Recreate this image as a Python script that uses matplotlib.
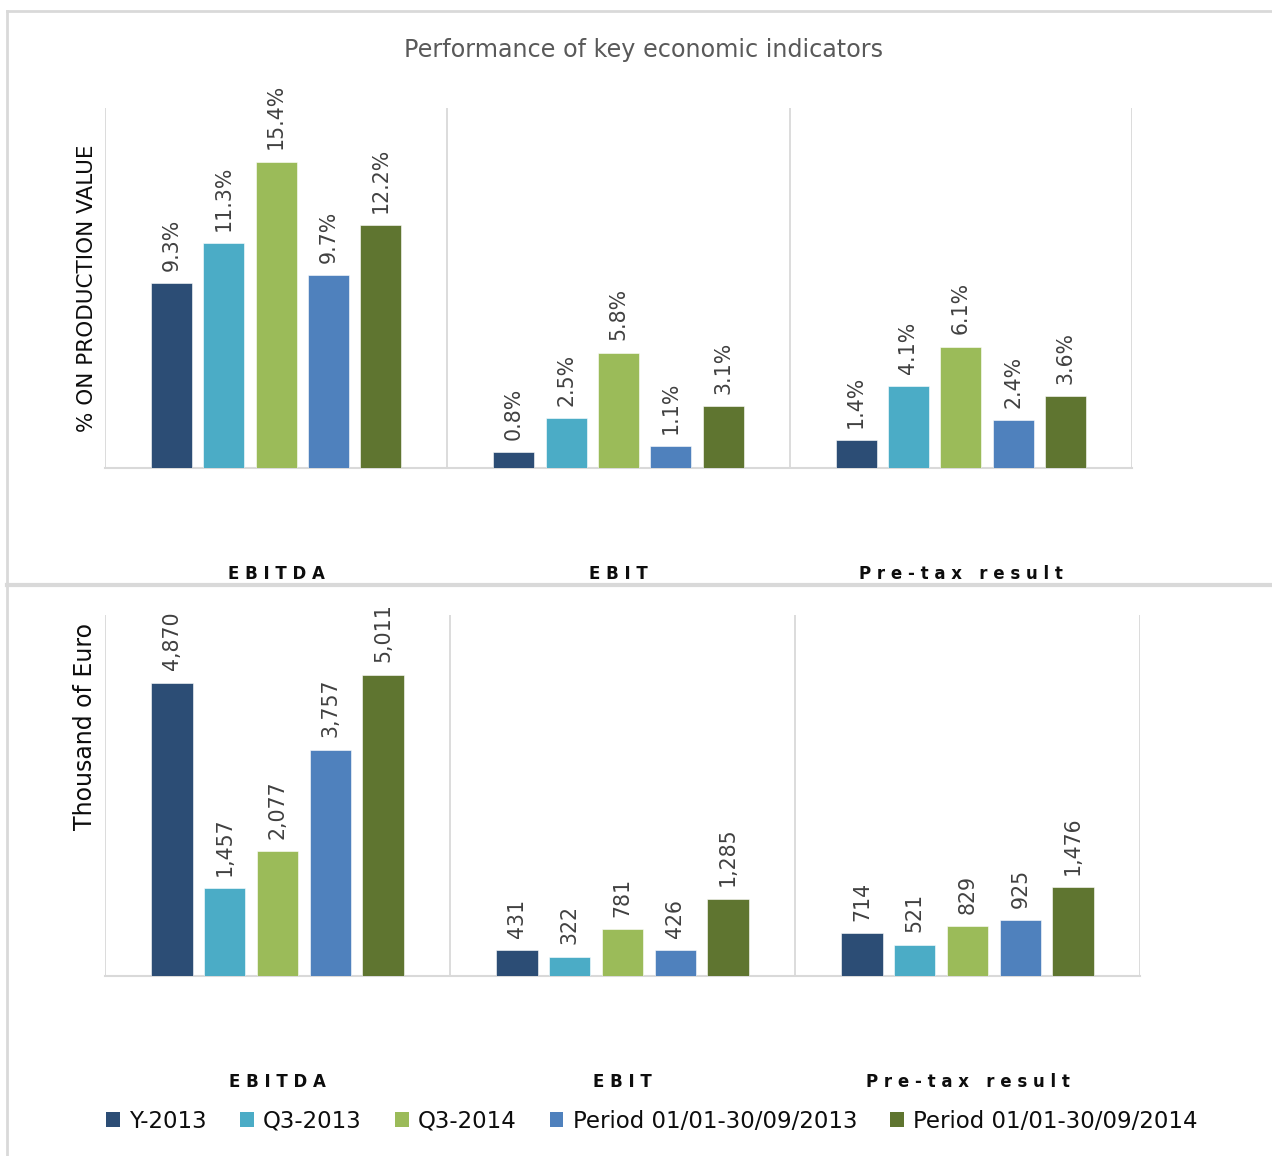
import numpy as np
import matplotlib
matplotlib.use("Agg")
import matplotlib.pyplot as plt
from matplotlib.patches import Patch
from matplotlib.lines import Line2D

categories = ["EBITDA", "EBIT", "Pre-tax result"]
series_names = ["Y-2013", "Q3-2013", "Q3-2014",
                "Period 01/01-30/09/2013", "Period 01/01-30/09/2014"]
colors = ["#2C4D75", "#4BACC6", "#9BBB59", "#4F81BD", "#5F7530"]

# % on production value, one list per series (EBITDA, EBIT, Pre-tax)
pct_y2013 = [9.3, 0.8, 1.4]
pct_q3_2013 = [11.3, 2.5, 4.1]
pct_q3_2014 = [15.4, 5.8, 6.1]
pct_per_2013 = [9.7, 1.1, 2.4]
pct_per_2014 = [12.2, 3.1, 3.6]

# thousand of euro
eur_y2013 = [4870, 431, 714]
eur_q3_2013 = [1457, 322, 521]
eur_q3_2014 = [2077, 781, 829]
eur_per_2013 = [3757, 426, 925]
eur_per_2014 = [5011, 1285, 1476]

pct_data = [pct_y2013, pct_q3_2013, pct_q3_2014, pct_per_2013, pct_per_2014]
eur_data = [eur_y2013, eur_q3_2013, eur_q3_2014, eur_per_2013, eur_per_2014]

W, H = 1272, 1156
fig = plt.figure(figsize=(W / 100, H / 100), dpi=100)
GRID = "#D9D9D9"


def box(l, t, r, b):
    return [l / W, (H - b) / H, (r - l) / W, (b - t) / H]


def spaced(s):
    return " ".join(list(s))


def draw_panel(ax, data, ymax, fmt):
    x = np.arange(len(categories))
    step = 0.153
    for i, vals in enumerate(data):
        pos = x + (i - 2) * step
        bars = ax.bar(pos, vals, width=0.12, color=colors[i],
                      edgecolor="#FFFFFF", linewidth=0.4, zorder=3)
        for b, v in zip(bars, vals):
            ax.annotate(fmt(v), (b.get_x() + b.get_width() / 2, v),
                        xytext=(0, 9), textcoords="offset points",
                        rotation=90, ha="center", va="bottom",
                        fontsize=14.8, color="#404040")
    ax.set_xlim(-0.5, len(categories) - 0.5)
    ax.set_ylim(0, ymax)
    for xv in np.arange(-0.5, len(categories), 1.0):
        ax.axvline(xv, color=GRID, lw=1.3, zorder=1)
    for s in ["top", "left", "right"]:
        ax.spines[s].set_visible(False)
    ax.spines["bottom"].set_color(GRID)
    ax.spines["bottom"].set_linewidth(1.5)
    ax.set_yticks([])
    ax.set_xticks(x)
    ax.set_xticklabels([spaced(c) for c in categories], fontsize=12,
                       fontweight="bold", color="#0D0D0D")
    ax.tick_params(axis="x", length=0, pad=70)


ax1 = fig.add_axes(box(105, 108, 1132, 468))
draw_panel(ax1, pct_data, 18.1, lambda v: f"{v:.1f}%")

ax2 = fig.add_axes(box(105, 615, 1140, 976))
draw_panel(ax2, eur_data, 6000, lambda v: f"{v:,.0f}")

fig.text(643 / W, 1 - 50 / H, "Performance of key economic indicators",
         ha="center", va="center", fontsize=17.2, color="#595959")
fig.text(87 / W, 1 - 288 / H, "% ON PRODUCTION VALUE", rotation=90,
         ha="center", va="center", fontsize=15.5, color="#0D0D0D")
fig.text(85 / W, 1 - 727 / H, "Thousand of Euro", rotation=90,
         ha="center", va="center", fontsize=17, color="#0D0D0D")

# frame lines
fig.add_artist(Line2D([7 / W, 1], [1 - 11 / H, 1 - 11 / H], color=GRID, lw=2))
fig.add_artist(Line2D([7 / W, 7 / W], [0, 1 - 11 / H], color=GRID, lw=2))
fig.add_artist(Line2D([7 / W, 1], [1 - 585 / H, 1 - 585 / H], color=GRID, lw=3))

handles = [Patch(facecolor=c, edgecolor="none") for c in colors]
fig.legend(handles, series_names, loc="center", bbox_to_anchor=(652 / W, 1 - 1121 / H),
           ncol=5, frameon=False, fontsize=16.5, handlelength=0.6, handleheight=0.6,
           handletextpad=0.4, columnspacing=1.45, labelcolor="#0D0D0D")

plt.savefig("out.png", dpi=100)
